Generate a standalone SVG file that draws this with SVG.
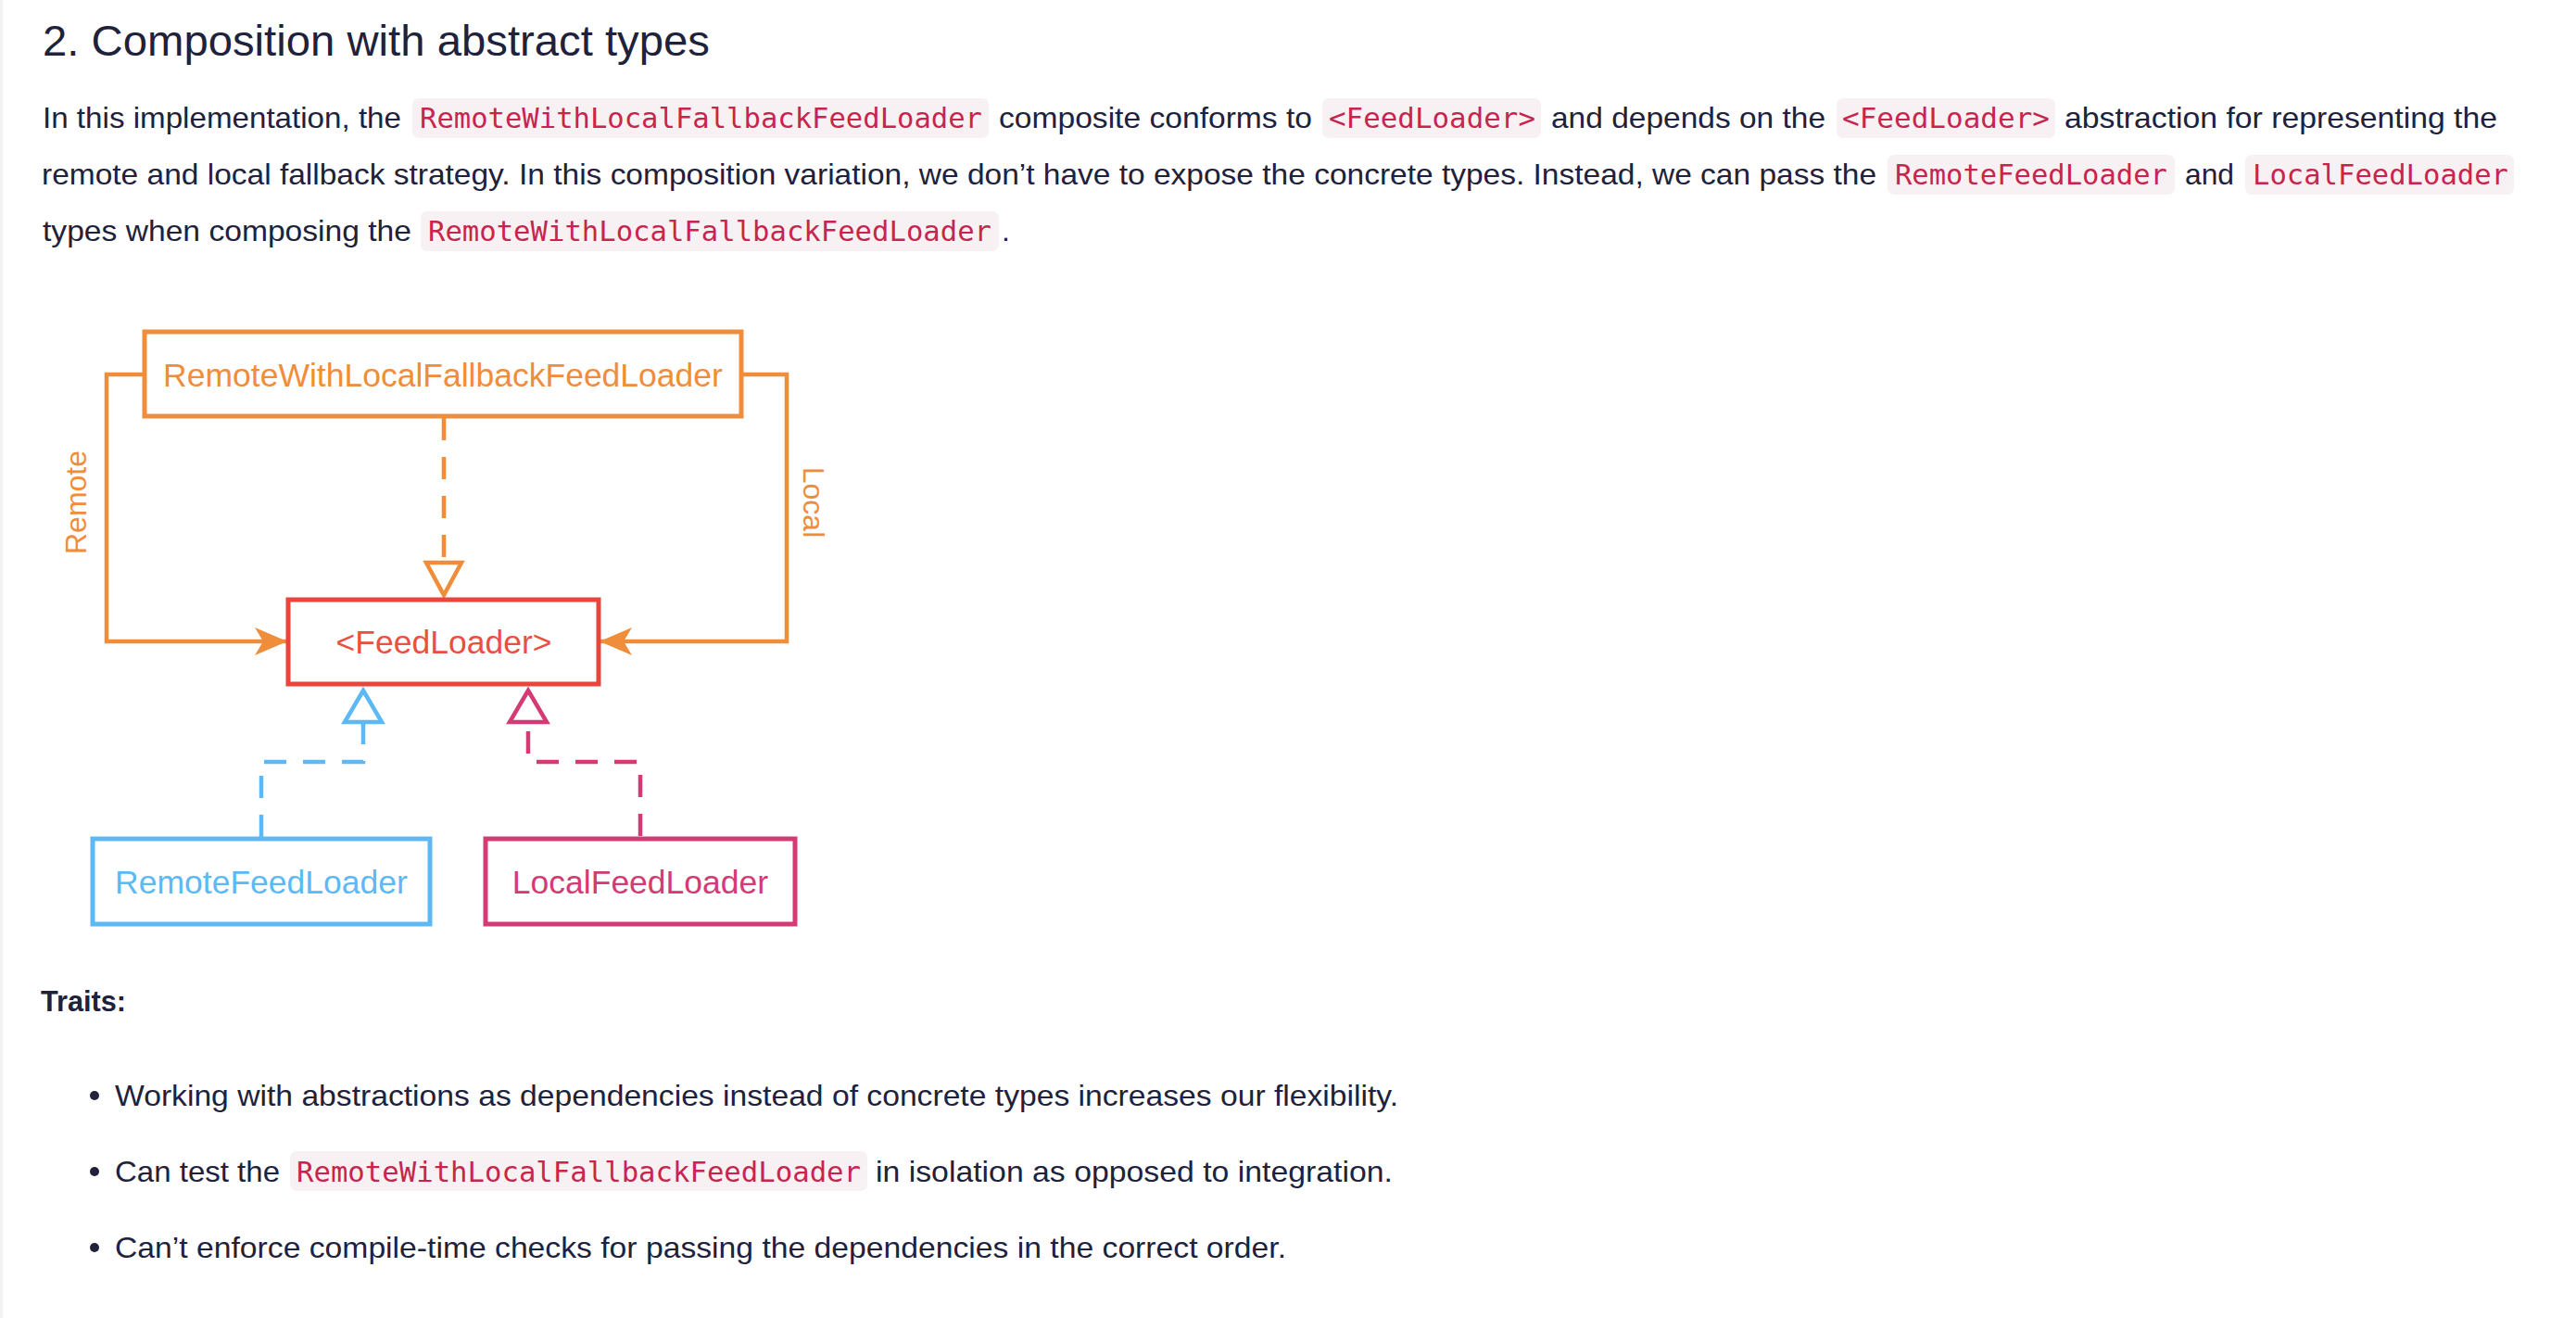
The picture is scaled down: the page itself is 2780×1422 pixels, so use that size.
<svg xmlns="http://www.w3.org/2000/svg" width="2780" height="1422" viewBox="0 0 2780 1422">
<style>
.body{font-family:"Liberation Sans",Arial,sans-serif;font-size:32px;fill:#20213a}
.h{font-family:"Liberation Sans",Arial,sans-serif;font-size:46px;fill:#20213a}
.b{font-family:"Liberation Sans",Arial,sans-serif;font-size:31px;font-weight:bold;fill:#20213a}
.code{font-family:"DejaVu Sans Mono","Liberation Mono",monospace;font-size:30.6px;fill:#c7254e}
.cbg{fill:#f8f1f3}
.nt{font-family:"Liberation Sans",Arial,sans-serif;font-size:35.5px;text-anchor:middle}
.box{fill:#ffffff;stroke-width:5}
.orange{stroke:#f08d3b}
.orangeT{fill:#f08d3b}
.red{stroke:#e8453c}
.redT{fill:#e9503f}
.blue{stroke:#5cb9f5}
.blueT{fill:#5cb9f5}
.pink{stroke:#d43a74}
.pinkT{fill:#d43a74}
.ln{fill:none;stroke-width:4.5}
.dash{stroke-dasharray:24 18}
.tri{fill:#ffffff;stroke-width:4.5;stroke-linejoin:miter}
.lbl{font-family:"Liberation Sans",Arial,sans-serif;font-size:32px;text-anchor:middle;fill:#f08d3b}
</style>
<defs>
<marker id="arrowO" viewBox="-36 -16 38 32" refX="0" refY="0" markerWidth="38" markerHeight="32" markerUnits="userSpaceOnUse" orient="auto">
<path d="M1,0 L-34,-15 L-25,0 L-34,15 Z" fill="#f08d3b"/>
</marker>
</defs>
<rect x="0" y="0" width="2780" height="1422" fill="#ffffff"/>
<rect x="0" y="0" width="3" height="1422" fill="#f2f2f2"/>

<g id="page-text">
<text class="h" x="46" y="60" textLength="720" lengthAdjust="spacingAndGlyphs">2. Composition with abstract types</text>

<text class="body" x="46" y="138" textLength="387" lengthAdjust="spacingAndGlyphs">In this implementation, the</text>
<rect class="cbg" x="445" y="106" width="622" height="43" rx="7"/>
<text class="code" x="453" y="138" textLength="607" lengthAdjust="spacingAndGlyphs">RemoteWithLocalFallbackFeedLoader</text>
<text class="body" x="1078" y="138" textLength="338" lengthAdjust="spacingAndGlyphs">composite conforms to</text>
<rect class="cbg" x="1427" y="106" width="236" height="43" rx="7"/>
<text class="code" x="1434" y="138" textLength="223" lengthAdjust="spacingAndGlyphs">&lt;FeedLoader&gt;</text>
<text class="body" x="1674" y="138" textLength="296" lengthAdjust="spacingAndGlyphs">and depends on the</text>
<rect class="cbg" x="1982" y="106" width="236" height="43" rx="7"/>
<text class="code" x="1988" y="138" textLength="224" lengthAdjust="spacingAndGlyphs">&lt;FeedLoader&gt;</text>
<text class="body" x="2228" y="138" textLength="467" lengthAdjust="spacingAndGlyphs">abstraction for representing the</text>

<text class="body" x="45" y="199" textLength="1980" lengthAdjust="spacingAndGlyphs">remote and local fallback strategy. In this composition variation, we don’t have to expose the concrete types. Instead, we can pass the</text>
<rect class="cbg" x="2037" y="167" width="310" height="43" rx="7"/>
<text class="code" x="2045" y="199" textLength="294" lengthAdjust="spacingAndGlyphs">RemoteFeedLoader</text>
<text class="body" x="2358" y="199" textLength="53" lengthAdjust="spacingAndGlyphs">and</text>
<rect class="cbg" x="2423" y="167" width="290" height="43" rx="7"/>
<text class="code" x="2431" y="199" textLength="276" lengthAdjust="spacingAndGlyphs">LocalFeedLoader</text>

<text class="body" x="46" y="260" textLength="398" lengthAdjust="spacingAndGlyphs">types when composing the</text>
<rect class="cbg" x="454" y="228" width="624" height="43" rx="7"/>
<text class="code" x="462" y="260" textLength="608" lengthAdjust="spacingAndGlyphs">RemoteWithLocalFallbackFeedLoader</text>
<text class="body" x="1081" y="260">.</text>

<text class="b" x="44" y="1091" textLength="92" lengthAdjust="spacingAndGlyphs">Traits:</text>

<circle cx="102" cy="1182" r="5" fill="#20213a"/>
<text class="body" x="124" y="1193" textLength="1385" lengthAdjust="spacingAndGlyphs">Working with abstractions as dependencies instead of concrete types increases our flexibility.</text>

<circle cx="102" cy="1264" r="5" fill="#20213a"/>
<text class="body" x="124" y="1275" textLength="178" lengthAdjust="spacingAndGlyphs">Can test the</text>
<rect class="cbg" x="313" y="1242" width="623" height="43" rx="7"/>
<text class="code" x="320" y="1275" textLength="609" lengthAdjust="spacingAndGlyphs">RemoteWithLocalFallbackFeedLoader</text>
<text class="body" x="945" y="1275" textLength="558" lengthAdjust="spacingAndGlyphs">in isolation as opposed to integration.</text>

<circle cx="102" cy="1346" r="5" fill="#20213a"/>
<text class="body" x="124" y="1357" textLength="1264" lengthAdjust="spacingAndGlyphs">Can’t enforce compile-time checks for passing the dependencies in the correct order.</text>
</g>

<g id="connectors">
<path class="ln orange" d="M156,404 H115 V692 H309" marker-end="url(#arrowO)"/>
<path class="ln orange" d="M800,404 H849 V692 H648" marker-end="url(#arrowO)"/>
<path class="ln orange dash" d="M479,451 V607"/>
<polygon class="tri orange" points="460,607 498,607 479,642"/>
<path class="ln blue dash" d="M392,779 V822 H282 V905"/>
<polygon class="tri blue" points="392,745 412,779 372,779"/>
<path class="ln pink dash" style="stroke-dashoffset:32" d="M570,779 V822 H691 V905"/>
<polygon class="tri pink" points="570,745 590,779 550,779"/>
<text class="lbl" transform="translate(93,542) rotate(-90)">Remote</text>
<text class="lbl" transform="translate(867,542) rotate(90)">Local</text>
</g>

<g id="node-composite">
<rect class="box orange" x="156" y="358" width="644" height="91"/>
<text class="nt orangeT" x="478" y="417">RemoteWithLocalFallbackFeedLoader</text>
</g>
<g id="node-feedloader">
<rect class="box red" x="311" y="647" width="335" height="91"/>
<text class="nt redT" x="479" y="705">&lt;FeedLoader&gt;</text>
</g>
<g id="node-remote">
<rect class="box blue" x="100" y="905" width="364" height="92"/>
<text class="nt blueT" x="282" y="964">RemoteFeedLoader</text>
</g>
<g id="node-local">
<rect class="box pink" x="524" y="905" width="334" height="92"/>
<text class="nt pinkT" x="691" y="964">LocalFeedLoader</text>
</g>
</svg>
